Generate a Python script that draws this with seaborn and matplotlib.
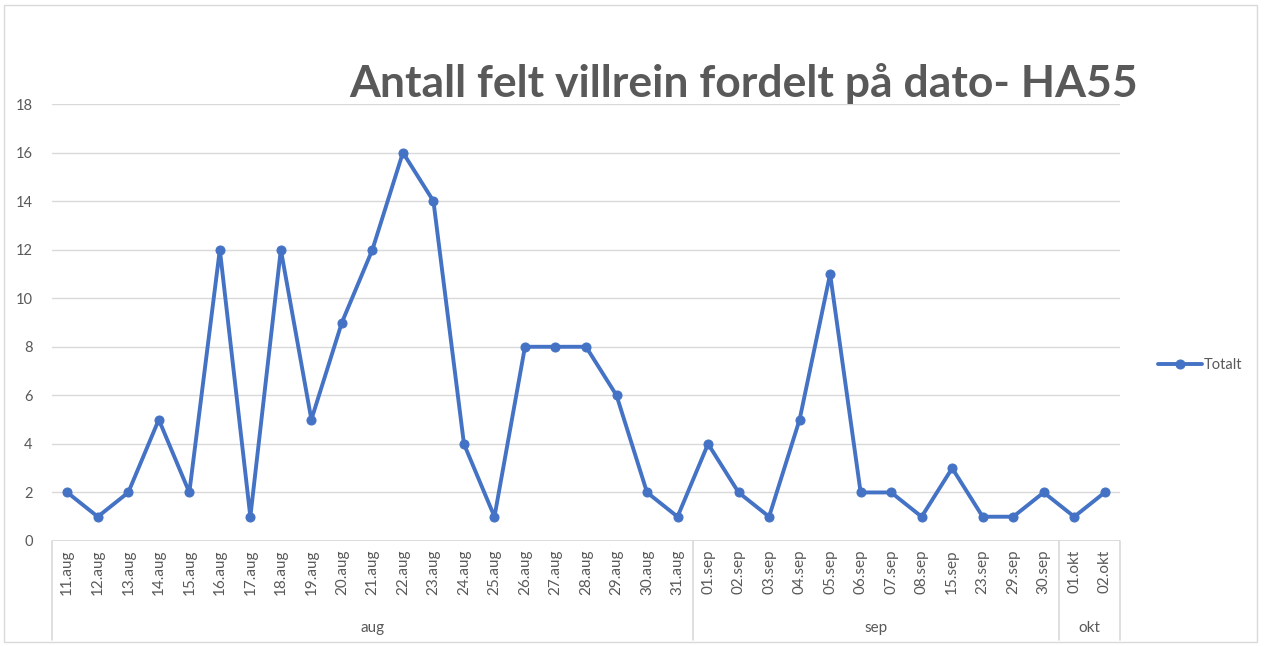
import numpy as np
import pandas as pd
import seaborn as sns
import matplotlib.pyplot as plt
import matplotlib.patches as patches
import matplotlib.transforms as mtransforms

datoer = ["11.aug", "12.aug", "13.aug", "14.aug", "15.aug", "16.aug", "17.aug",
          "18.aug", "19.aug", "20.aug", "21.aug", "22.aug", "23.aug", "24.aug",
          "25.aug", "26.aug", "27.aug", "28.aug", "29.aug", "30.aug", "31.aug",
          "01.sep", "02.sep", "03.sep", "04.sep", "05.sep", "06.sep", "07.sep",
          "08.sep", "15.sep", "23.sep", "29.sep", "30.sep", "01.okt", "02.okt"]
maaneder = ["aug"] * 21 + ["sep"] * 12 + ["okt"] * 2
totalt = [2, 1, 2, 5, 2, 12, 1, 12, 5, 9, 12, 16, 14, 4, 1, 8, 8, 8, 6, 2, 1,
          4, 2, 1, 5, 11, 2, 2, 1, 3, 1, 1, 2, 1, 2]

df = pd.DataFrame({"dato": datoer, "maaned": maaneder, "Totalt": totalt})
df["pos"] = np.arange(len(df))

sns.set_style("white")
plt.rcParams['font.family'] = ['Lato', 'DejaVu Sans']

W, H = 1265, 646
fig = plt.figure(figsize=(W / 100, H / 100), dpi=100)
ax = fig.add_axes([52 / W, (H - 541) / H, (1120 - 52) / W, (541 - 104) / H])

grey = "#595959"
line_grey = "#D9D9D9"
blue = "#4472C4"

sns.lineplot(data=df, x="pos", y="Totalt", ax=ax, color=blue, linewidth=2.8,
             marker="o", markersize=6.5, markeredgecolor=blue, label="Totalt",
             sort=False)

ax.set_xlim(-0.5, len(df) - 0.5)
ax.set_ylim(0, 18)
ax.set_yticks(range(0, 19, 2))
ax.yaxis.grid(True, color=line_grey, linewidth=1)
ax.set_axisbelow(True)
for s in ax.spines.values():
    s.set_visible(False)
ax.axhline(0, color=line_grey, linewidth=1.2, zorder=0)

ax.set_xticks(df["pos"])
ax.set_xticklabels(df["dato"], rotation=90, fontsize=11, color=grey)
ax.tick_params(axis="x", length=0, pad=6)
ax.tick_params(axis="y", length=0, pad=14, labelsize=10.5, labelcolor=grey)
ax.set_xlabel("")
ax.set_ylabel("")

# multi-level category axis
trans = mtransforms.blended_transform_factory(ax.transData, ax.transAxes)
bottom = -(640 - 541) / (541 - 104)
groups = df.groupby("maaned", sort=False)["pos"]
edges = [-0.5]
for name, p in groups:
    edges.append(p.max() + 0.5)
    ax.text((p.min() + p.max()) / 2, -(628 - 541) / (541 - 104), name,
            transform=trans, ha="center", va="center", fontsize=11, color=grey)
for e in edges:
    ax.plot([e, e], [0, bottom], transform=trans, color=line_grey,
            linewidth=1.2, clip_on=False)

leg = ax.legend(loc="center left", bbox_to_anchor=(1145 / W, (H - 365) / H),
                bbox_transform=fig.transFigure, frameon=False, fontsize=10.5,
                handlelength=3.0, handletextpad=0.1)
for t in leg.get_texts():
    t.set_color(grey)

fig.text(744 / W, (H - 84) / H, "Antall felt villrein fordelt på dato- HA55",
         ha="center", va="center", fontsize=32, fontweight="bold", color=grey)

fig.patches.append(patches.Rectangle((4 / W, 4 / H), (1257 - 4) / W, (641 - 4) / H,
                                     transform=fig.transFigure, fill=False,
                                     edgecolor=line_grey, linewidth=1))

fig.savefig("out.png", dpi=100)
